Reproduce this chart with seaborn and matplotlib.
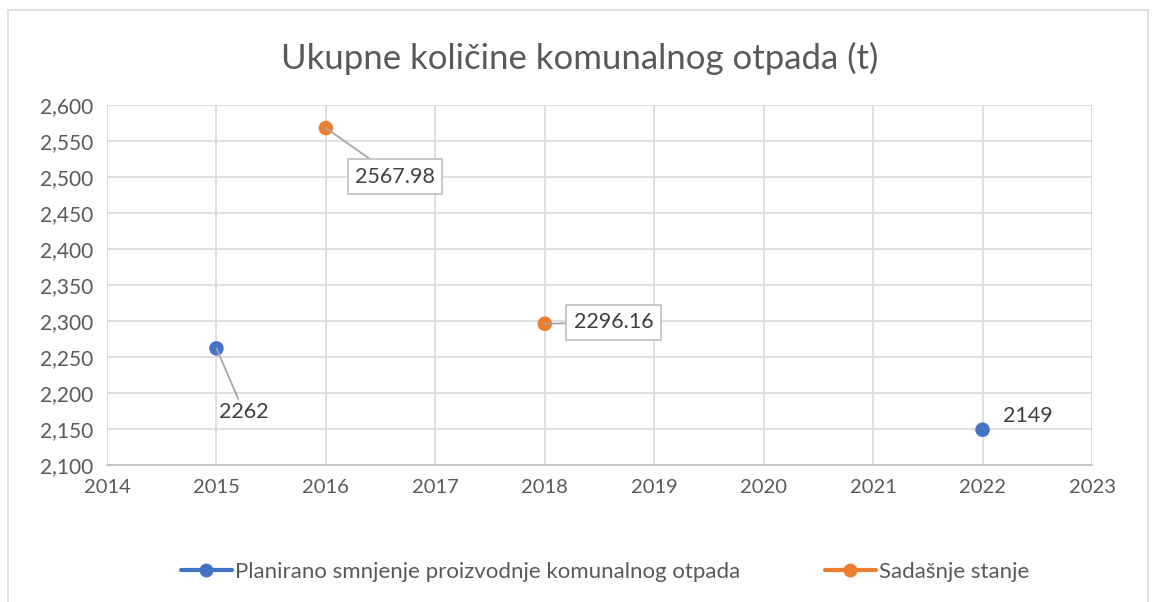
import numpy as np
import pandas as pd
import matplotlib
matplotlib.use('Agg')
import matplotlib.pyplot as plt
from matplotlib.lines import Line2D
import seaborn as sns

years_plan = [2015, 2022]
values_plan = [2262, 2149]
years_now = [2016, 2018]
values_now = [2567.98, 2296.16]

name_plan = 'Planirano smnjenje proizvodnje komunalnog otpada'
name_now = 'Sadašnje stanje'
blue = '#4472C4'
orange = '#ED7D31'

df = pd.DataFrame({
    'year': years_plan + years_now,
    'value': values_plan + values_now,
    'series': [name_plan] * len(years_plan) + [name_now] * len(years_now),
})

sns.set_theme(style='white')
plt.rcParams['font.family'] = ['Lato', 'DejaVu Sans']

fig = plt.figure(figsize=(11.59, 6.02), dpi=100)
ax = fig.add_axes([107 / 1159, 1 - 465 / 602, 985 / 1159, 360 / 602])

sns.scatterplot(data=df, x='year', y='value', hue='series',
                palette={name_plan: blue, name_now: orange},
                s=110, edgecolor='none', legend=False, ax=ax, zorder=3)

ax.set_xlim(2014, 2023)
ax.set_ylim(2100, 2600)
ax.set_xticks(np.arange(2014, 2024))
ax.set_yticks(np.arange(2100, 2601, 50))
ax.yaxis.set_major_formatter(matplotlib.ticker.StrMethodFormatter('{x:,.0f}'))
ax.grid(True, color='#D9D9D9', linewidth=1.2)
ax.set_axisbelow(True)
for s in ['top', 'right', 'left']:
    ax.spines[s].set_visible(False)
ax.spines['bottom'].set_color('#BFBFBF')
ax.spines['bottom'].set_linewidth(1.2)
ax.tick_params(axis='y', length=0, labelsize=15, colors='#595959', pad=10)
ax.tick_params(axis='x', length=0, labelsize=14.5, colors='#595959', pad=10)
ax.set_xlabel('')
ax.set_ylabel('')

fig.text(0.5, 1 - 58 / 602, 'Ukupne količine komunalnog otpada (t)',
         ha='center', va='center', fontsize=25, color='#595959')

lbl = dict(fontsize=15.5, color='#404040')
box = dict(boxstyle='square,pad=0.35', fc='white', ec='#BFBFBF', lw=1.2)
arrow = dict(arrowstyle='-', color='#A6A6A6', lw=1.3, shrinkA=0, shrinkB=0)

ax.annotate(f'{values_now[0]:.2f}', xy=(years_now[0], values_now[0]), xytext=(21, -35),
            textcoords='offset points', bbox=box, arrowprops=arrow,
            ha='left', va='center', **lbl)
ax.annotate(f'{values_now[1]:.2f}', xy=(years_now[1], values_now[1]), xytext=(21, 1),
            textcoords='offset points', bbox=box, arrowprops=arrow,
            ha='left', va='center', **lbl)
ax.annotate(f'{values_plan[0]}', xy=(years_plan[0], values_plan[0]), xytext=(2, -46),
            textcoords='offset points', arrowprops=arrow,
            ha='left', va='center', **lbl)
ax.annotate(f'{values_plan[1]}', xy=(years_plan[1], values_plan[1]), xytext=(15, 10),
            textcoords='offset points', ha='left', va='center', **lbl)

handles = [Line2D([], [], color=blue, lw=3, marker='o', markersize=9),
           Line2D([], [], color=orange, lw=3, marker='o', markersize=9)]
fig.legend(handles, [name_plan, name_now], loc='center', bbox_to_anchor=(0.522, 1 - 572 / 602),
           ncol=2, frameon=False, fontsize=16, handlelength=2.3, handletextpad=0.15,
           columnspacing=3.8, labelcolor='#595959')

# chart border
for xs, ys in [([8, 8], [10, 602]), ([8, 1148], [10, 10]), ([1148, 1148], [10, 602])]:
    fig.add_artist(Line2D([x / 1159 for x in xs], [1 - y / 602 for y in ys],
                          color='#D9D9D9', lw=1.2))

fig.savefig('out.png', dpi=100)
